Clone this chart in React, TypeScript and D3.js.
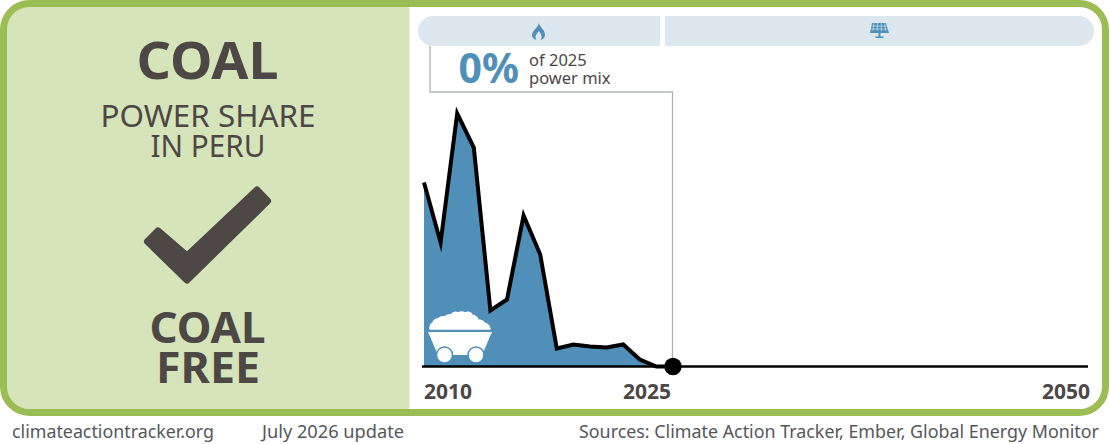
import React from "react";
import * as d3 from "d3";

const years = [2010, 2011, 2012, 2013, 2014, 2015, 2016, 2017, 2018, 2019, 2020, 2021, 2022, 2023, 2024, 2025];
const coalShare = [3.68, 2.48, 5.06, 4.38, 1.12, 1.34, 3.02, 2.24, 0.36, 0.44, 0.4, 0.38, 0.44, 0.14, 0, 0];
const futureYears = [2025, 2050];
const futureShare = [0, 0];
const tickYears = [2010, 2025, 2050];
const titleLines = ["POWER SHARE", "IN PERU"];
const statusLines = ["COAL", "FREE"];
const footerLeft = "climateactiontracker.org";
const footerMid = "July 2026 update";
const footerRight = "Sources: Climate Action Tracker, Ember, Global Energy Monitor";

const FONT = "'Noto Sans', 'Open Sans', sans-serif";
const DARK = "#4d4746";
const FOOT = "#55585a";
const GREEN = "#9cbd54";
const PANEL = "#d6e4b9";
const BLUE = "#4f8fb8";
const BAND = "#dce7ef";
const GREY = "#aeb4b5";

export default function App() {
  const x = d3.scaleLinear().domain([2010, 2050]).range([424, 1088]);
  const y = d3.scaleLinear().domain([0, 5]).range([366.5, 116.5]);
  const pts = years.map((yr, i) => [yr, coalShare[i]] as [number, number]);
  const line = d3.line<[number, number]>().x((d) => x(d[0])).y((d) => y(d[1]));
  const area = d3.area<[number, number]>().x((d) => x(d[0])).y0(y(0)).y1((d) => y(d[1]));
  const future = futureYears.map((yr, i) => [yr, futureShare[i]] as [number, number]);

  return (
    <svg width={1110} height={444} style={{ position: "absolute", left: 0, top: 0, background: "#fff" }} fontFamily={FONT}>
      <defs>
        <clipPath id="fr"><rect x={3.5} y={3.5} width={1102} height={409} rx={26} /></clipPath>
      </defs>
      <rect x={3.5} y={3.5} width={406} height={409} fill={PANEL} clipPath="url(#fr)" />
      <rect x={3.5} y={3.5} width={1102} height={409} rx={26} fill="none" stroke={GREEN} strokeWidth={7} />

      <text x={207.5} y={79} textAnchor="middle" fontSize={52} fontWeight={700} fill={DARK} textLength={142} lengthAdjust="spacingAndGlyphs">COAL</text>
      {titleLines.map((t, i) => (
        <text key={t} x={208} y={126.7 + i * 30.6} textAnchor="middle" fontSize={30} fill={DARK} textLength={i === 0 ? 215 : 115} lengthAdjust="spacingAndGlyphs">{t}</text>
      ))}
      <path d="M147.5 241.5 L158 231 L187 256 L257 190 L267.5 201 L187 280 Z" fill={DARK} stroke={DARK} strokeWidth={7} strokeLinejoin="round" />
      {statusLines.map((t, i) => (
        <text key={t} x={207.5 + (i === 0 ? 0 : 0.5)} y={343 + i * 40} textAnchor="middle" fontSize={43} fontWeight={700} fill={DARK} textLength={i === 0 ? 116 : 104} lengthAdjust="spacingAndGlyphs">{t}</text>
      ))}

      {/* scenario bands */}
      <path d="M660 16 H433 A15 15 0 0 0 433 46 H660 Z" fill={BAND} />
      <path d="M665 16 H1079 A15 15 0 0 1 1079 46 H665 Z" fill={BAND} />
      {/* flame */}
      <path d="M538.5 23 C539 27 532.5 30 532 35 C532 37.5 534 39.5 536.5 40 C534.5 37 536 34 539 31 C541.5 34 542.5 37 540.5 40 C543 39.5 545 37.5 545 35 C545 30 540 27 538.5 23 Z" fill={BLUE} />
      {/* solar panel */}
      <g fill={BLUE}>
        <path d="M872 23 H886 L889 33 H870 Z" />
        <rect x={878.5} y={33} width={2} height={4} />
        <rect x={875.5} y={36.5} width={8} height={1.5} />
      </g>
      <g stroke={BAND} strokeWidth={0.6}>
        {[0, 1, 2, 3].map((i) => <line key={i} x1={874 + i * 3.6} y1={23} x2={873 + i * 4.2} y2={31} />)}
        <line x1={871} y1={26} x2={888} y2={26} />
        <line x1={870.5} y1={29} x2={888.5} y2={29} />
      </g>

      {/* connector */}
      <path d={`M430 46 V92 H${x(2025) - 0.5} V${y(0)}`} fill="none" stroke={GREY} strokeWidth={1.3} />

      <text x={458.5} y={83} fontSize={41} fontWeight={700} fill={BLUE}>0%</text>
      <text x={529} y={66} fontSize={16.5} fill={DARK}>of 2025</text>
      <text x={529} y={84} fontSize={16.5} fill={DARK}>power mix</text>

      <path d={area(pts) ?? ""} fill={BLUE} />
      <path d={line(pts) ?? ""} fill="none" stroke="#000" strokeWidth={4} strokeLinejoin="miter" strokeMiterlimit={10} />
      <path d={line(future) ?? ""} fill="none" stroke="#000" strokeWidth={2.3} />
      <line x1={x(2010) - 2} x2={x(2025)} y1={y(0)} y2={y(0)} stroke="#000" strokeWidth={2.3} />
      <circle cx={x(2025)} cy={y(0)} r={8.7} fill="#000" />

      {/* coal cart */}
      <g fill="#fff">
        <path d="M430 329 Q430 324 433 323 Q434 319 438 319 Q441 316 445 317 Q448 314 451 315 Q454 311 458 313 Q462 311 465 313 Q470 311 472 315 Q477 316 478 320 Q483 320 484 323 Q489 324 490 329 Z" stroke="#fff" strokeWidth={1.5} strokeLinejoin="round" />
        <path d="M428 332 H492 L482 355 H438 Z" />
        <circle cx={444.5} cy={355} r={8} stroke={BLUE} strokeWidth={1.5} />
        <circle cx={476} cy={355} r={8} stroke={BLUE} strokeWidth={1.5} />
      </g>

      {tickYears.map((t) => (
        <text key={t} x={t === 2010 ? x(t) : x(t) + 2 - (t === 2025 ? 4 : 0)} y={399} textAnchor={t === 2010 ? "start" : "end"} fontSize={21} fontWeight={700} fill={DARK}>{t}</text>
      ))}

      <text x={12} y={438} fontSize={18} fill={FOOT} textLength={202} lengthAdjust="spacingAndGlyphs">{footerLeft}</text>
      <text x={262} y={438} fontSize={18} fill={FOOT} textLength={142} lengthAdjust="spacingAndGlyphs">{footerMid}</text>
      <text x={1099} y={438} textAnchor="end" fontSize={18} fill={FOOT} textLength={520} lengthAdjust="spacingAndGlyphs">{footerRight}</text>
    </svg>
  );
}
